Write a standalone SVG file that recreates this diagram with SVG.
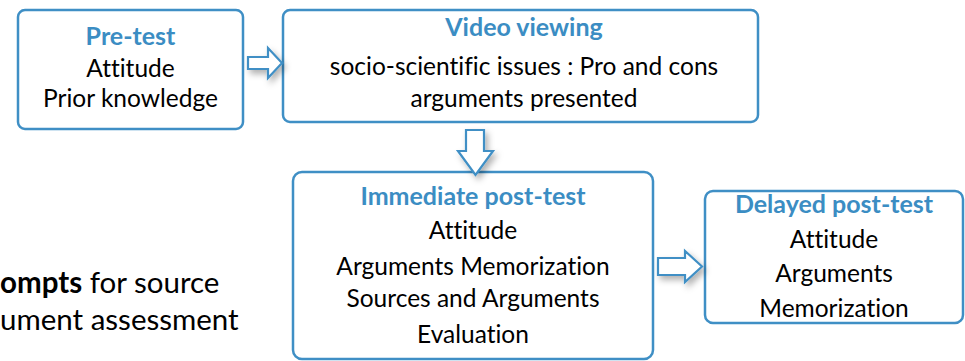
<svg xmlns="http://www.w3.org/2000/svg" width="965" height="361" viewBox="0 0 965 361">
<style>
.box{fill:#fff;stroke:#3f8fc5;stroke-width:2.5}
.arr{fill:#fff;stroke:#3f8fc5;stroke-width:2.2;stroke-linejoin:miter;filter:url(#sh)}
text{font-family:Lato,"Liberation Sans",sans-serif;font-size:24.5px;fill:#000;text-anchor:middle;font-variant-ligatures:none}
.t{font-weight:bold;fill:#3b8dc3;font-size:25px}
.l{text-anchor:start;font-size:29.5px}
</style>
<defs>
<filter id="sh" x="-50%" y="-50%" width="200%" height="200%">
<feDropShadow dx="3" dy="4" stdDeviation="3" flood-color="#000" flood-opacity="0.3"/>
</filter>
</defs>
<rect width="965" height="361" fill="#fff"/>
<g id="side-text">
<text class="l" x="0" y="293"><tspan font-weight="bold">ompts</tspan> for source</text>
<text class="l" x="0" y="330">ument assessment</text>
</g>
<g id="pretest">
<rect class="box" x="18" y="10" width="225" height="119" rx="7"/>
<text class="t" x="130.5" y="45">Pre-test</text>
<text x="130.5" y="77">Attitude</text>
<text x="130.5" y="107">Prior knowledge</text>
</g>
<g id="video">
<rect class="box" x="283" y="10" width="475" height="112" rx="7"/>
<text class="t" x="524" y="36">Video viewing</text>
<text x="524" y="75">socio-scientific issues : Pro and cons</text>
<text x="524" y="107">arguments presented</text>
</g>
<g id="immediate">
<rect class="box" x="293" y="172" width="360" height="187" rx="9"/>
<text class="t" x="473" y="205">Immediate post-test</text>
<text x="473" y="239">Attitude</text>
<text x="473" y="275">Arguments Memorization</text>
<text x="473" y="307">Sources and Arguments</text>
<text x="473" y="343">Evaluation</text>
</g>
<g id="delayed">
<rect class="box" x="705" y="191" width="258" height="132" rx="8"/>
<text class="t" x="834" y="213">Delayed post-test</text>
<text x="834" y="248">Attitude</text>
<text x="834" y="282">Arguments</text>
<text x="834" y="317">Memorization</text>
</g>
<g id="connectors">
<path class="arr" d="M248,57 H268 V48 L282,63 L268,78 V69 H248 Z"/>
<path class="arr" d="M466,130 H484 V151 H493 L475.5,175 L458,151 H466 Z"/>
<path class="arr" d="M658,258 H685 V251 L702,266.5 L685,282 V275 H658 Z"/>
</g>
</svg>
